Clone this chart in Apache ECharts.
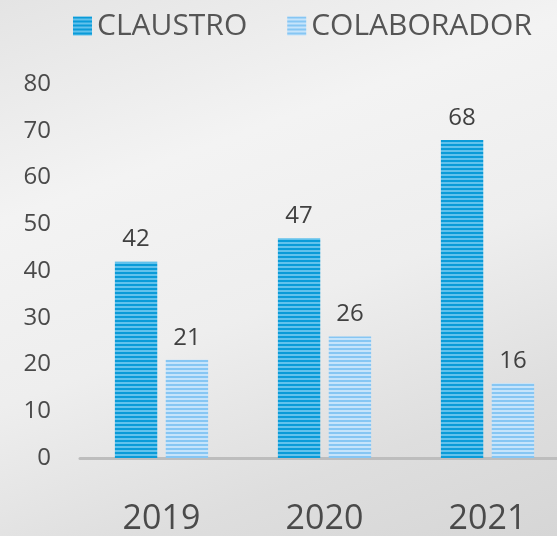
<!DOCTYPE html>
<html>
<head>
<meta charset="utf-8">
<script src="https://cdn.jsdelivr.net/npm/echarts@6/dist/echarts.min.js"></script>
<style>
  html, body { margin: 0; padding: 0; }
  body {
    width: 557px; height: 536px; overflow: hidden;
    background: linear-gradient(160deg, #e4e4e4 0%, #f3f3f3 30%, #eeeeee 55%, #dedede 80%, #d6d6d6 100%);
  }
  /* chart is a little wider than the page: the plot runs off the right edge */
  #chart { width: 569px; height: 536px; }
</style>
</head>
<body>
<div id="chart"></div>
<script>
const years = ['2019', '2020', '2021'];
const claustro = [42, 47, 68];
const colaborador = [21, 26, 16];
const yTicks = [0, 80, 10]; // min, max, interval

// horizontal stripe fill, like the original bars
function stripes(dark, light) {
  const c = document.createElement('canvas');
  c.width = 4; c.height = 4;
  const ctx = c.getContext('2d');
  ctx.fillStyle = light; ctx.fillRect(0, 0, 4, 4);
  ctx.fillStyle = dark; ctx.fillRect(0, 0, 4, 2);
  return { image: c, repeat: 'repeat' };
}

const chart = echarts.init(document.getElementById('chart'));
const labelStyle = { show: true, position: 'top', distance: 10, color: '#404040', fontSize: 24, fontFamily: 'Open Sans' };

chart.setOption({
  backgroundColor: 'transparent',
  animation: false,
  legend: {
    left: 68, top: 6,
    itemWidth: 19, itemHeight: 19, itemGap: 40,
    icon: 'rect',
    textStyle: { color: '#555', fontSize: 30, fontFamily: 'Open Sans', padding: [0, 0, 0, 0] }
  },
  grid: { left: 80, right: 0, top: 84, bottom: 78 },
  xAxis: {
    type: 'category',
    data: years,
    axisLine: { lineStyle: { color: '#bdbdbd', width: 3 } },
    axisTick: { show: false },
    axisLabel: { color: '#4a4a4a', fontSize: 34, fontFamily: 'Open Sans', margin: 44 }
  },
  yAxis: {
    type: 'value',
    min: yTicks[0], max: yTicks[1], interval: yTicks[2],
    axisLine: { show: false },
    axisTick: { show: false },
    splitLine: { show: false },
    axisLabel: { color: '#4a4a4a', fontSize: 24, fontFamily: 'Open Sans', margin: 29 }
  },
  series: [
    {
      name: 'CLAUSTRO', type: 'bar', data: claustro,
      barWidth: '26%', barGap: '20%',
      itemStyle: { color: stripes('#0a9bd8', '#62c2ec') },
      label: labelStyle
    },
    {
      name: 'COLABORADOR', type: 'bar', data: colaborador,
      barWidth: '26%', barGap: '20%',
      itemStyle: { color: stripes('#86c6f3', '#c6e4fb') },
      label: labelStyle
    }
  ]
});
</script>
</body>
</html>
